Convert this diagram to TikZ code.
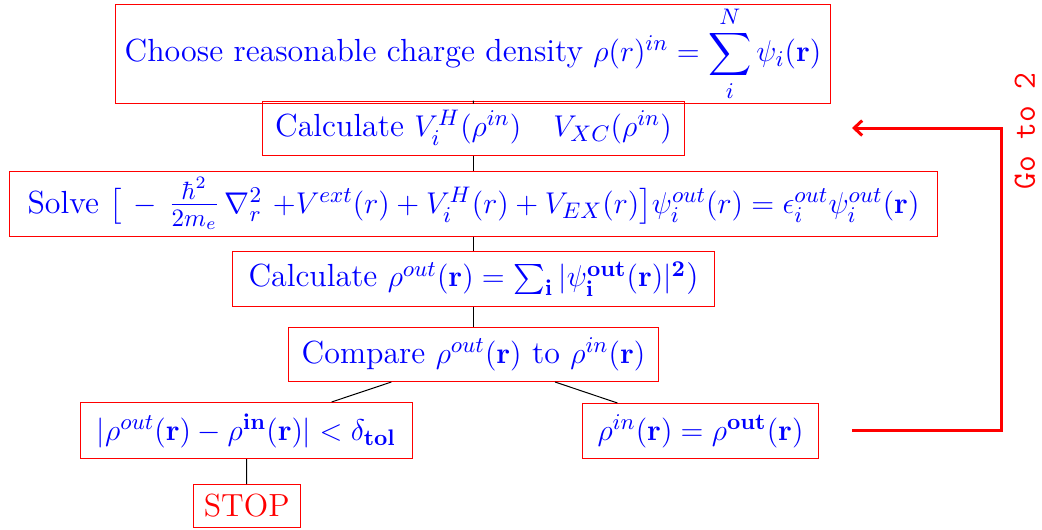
\documentclass[tikz,border=0pt]{standalone}
\usepackage{amsmath}
\usetikzlibrary{arrows.meta}
\tikzset{
  stepbox/.style={draw=red, line width=0.4pt, text=blue, inner sep=0pt,
    font=\fontsize{12.8}{15}\selectfont, align=center},
  link/.style={draw=black, line width=0.4pt},
  loop/.style={draw=red, line width=1.2pt},
}
\newcommand{\kinfrac}{\mbox{\fontsize{14.4}{16}\selectfont$\frac{\hbar^2}{2m_e}$}}
\begin{document}
\begin{tikzpicture}[x=0.4pt,y=-0.4pt]
\useasboundingbox (0,0) rectangle (1042,529);
\node[stepbox, minimum width=285.6pt, minimum height=39.6pt] (b1) at (473,53.5)
  {Choose reasonable charge density $\rho(r)^{in} = \displaystyle\sum_{i}^{N} \psi_i(\mathbf{r})$};
\node[stepbox, minimum width=168.4pt, minimum height=21.6pt] (b2) at (473.5,128)
  {Calculate $V_i^H(\rho^{in}) \quad V_{XC}(\rho^{in})$};
\node[stepbox, minimum width=370.8pt, minimum height=26pt] (b3) at (473.5,203.5)
  {Solve $\big[\,-\,\kinfrac\,\nabla_r^2\ {+}V^{ext}(r) + V_i^H(r) + V_{EX}(r)\big]\psi_i^{out}(r) = \epsilon_i^{out}\psi_i^{out}(\mathbf{r})$};
\node[stepbox, minimum width=192.4pt, minimum height=22pt] (b4) at (473.5,279)
  {Calculate $\rho^{out}(\mathbf{r}) = \sum_{\mathbf{i}} |\psi_{\mathbf{i}}^{\mathbf{out}}(\mathbf{r})|^{\mathbf{2}}$)};
\node[stepbox, minimum width=147.6pt, minimum height=21.6pt] (b5) at (473.5,354.5)
  {Compare $\rho^{out}(\mathbf{r})$ to $\rho^{in}(\mathbf{r})$};
\node[stepbox, minimum width=132.8pt, minimum height=22.4pt] (b6) at (246.5,430.5)
  {$|\rho^{out}(\mathbf{r}) - \rho^{\mathbf{in}}(\mathbf{r})| < \delta_{\mathbf{tol}}$};
\node[stepbox, minimum width=94.4pt, minimum height=22pt] (b7) at (700.5,431)
  {$\rho^{in}(\mathbf{r}) = \rho^{\mathbf{out}}(\mathbf{r})$};
\node[stepbox, text=red, minimum width=42.8pt, minimum height=17.2pt] (stop) at (246.7,506)
  {STOP};
\draw[link] (b1) -- (b2);
\draw[link] (b2) -- (b3);
\draw[link] (b3) -- (b4);
\draw[link] (b4) -- (b5);
\draw[link] (b5) -- (b6);
\draw[link] (b5) -- (b7);
\draw[link] (b6) -- (stop);
\coordinate (loopstart) at (852,430.5);
\coordinate (loopend) at (852,128);
\coordinate (corner1) at (1001,430.5);
\coordinate (corner2) at (1001,128);
\draw[loop, -{Straight Barb[length=3.2pt,width=6pt]}] (loopstart) -- (corner1) -- (corner2) -- (loopend);
\node[text=red, rotate=90, inner sep=0pt, font=\fontsize{13}{15}\selectfont\ttfamily] (goto) at (1025,131) {Go to 2};
\end{tikzpicture}
\end{document}
